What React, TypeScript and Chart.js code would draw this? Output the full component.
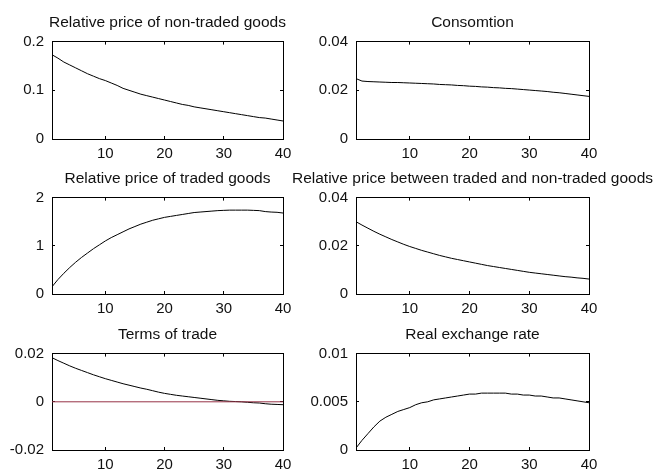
import React, { useEffect, useRef } from "react";
import { Chart, registerables } from "chart.js";

Chart.register(...registerables);

const periods = [1, 2, 3, 4, 5, 6, 7, 8, 9, 10, 11, 12, 13, 14, 15, 16, 17, 18, 19, 20, 21, 22, 23, 24, 25, 26, 27, 28, 29, 30, 31, 32, 33, 34, 35, 36, 37, 38, 39, 40];
const xTicks = [10, 20, 30, 40];
const xTickLabels = ["10", "20", "30", "40"];

const titles = [
  "Relative price of non-traded goods",
  "Consomtion",
  "Relative price of traded goods",
  "Relative price between traded and non-traded goods",
  "Terms of trade",
  "Real exchange rate",
];

const nonTradedPrice = [0.173, 0.166, 0.158, 0.152, 0.146, 0.140, 0.134, 0.129, 0.124, 0.120, 0.115, 0.110, 0.104, 0.100, 0.096, 0.092, 0.089, 0.086, 0.083, 0.080, 0.077, 0.074, 0.071, 0.069, 0.066, 0.064, 0.062, 0.060, 0.058, 0.056, 0.054, 0.052, 0.050, 0.048, 0.046, 0.044, 0.043, 0.041, 0.039, 0.037];
const consumption = [0.0248, 0.0238, 0.0236, 0.0235, 0.0234, 0.0233, 0.0232, 0.0232, 0.0231, 0.0230, 0.0229, 0.0228, 0.0227, 0.0226, 0.0224, 0.0223, 0.0222, 0.0220, 0.0219, 0.0217, 0.0216, 0.0214, 0.0213, 0.0211, 0.0210, 0.0208, 0.0207, 0.0205, 0.0203, 0.0201, 0.0199, 0.0197, 0.0195, 0.0192, 0.0190, 0.0187, 0.0184, 0.0181, 0.0178, 0.0175];
const tradedPrice = [0.15, 0.30, 0.43, 0.55, 0.66, 0.76, 0.85, 0.94, 1.02, 1.10, 1.17, 1.23, 1.29, 1.35, 1.40, 1.45, 1.49, 1.53, 1.56, 1.59, 1.61, 1.63, 1.65, 1.67, 1.69, 1.70, 1.71, 1.72, 1.73, 1.735, 1.74, 1.74, 1.74, 1.74, 1.735, 1.73, 1.71, 1.70, 1.695, 1.68];
const relativeTradedNonTraded = [0.0300, 0.0286, 0.0273, 0.0260, 0.0248, 0.0237, 0.0226, 0.0216, 0.0206, 0.0197, 0.0189, 0.0181, 0.0174, 0.0167, 0.0160, 0.0154, 0.0148, 0.0143, 0.0138, 0.0133, 0.0128, 0.0123, 0.0118, 0.0114, 0.0110, 0.0106, 0.0102, 0.0098, 0.0094, 0.0090, 0.0087, 0.0084, 0.0081, 0.0078, 0.0075, 0.0072, 0.0070, 0.0067, 0.0065, 0.0062];
const termsOfTrade = [0.0183, 0.0171, 0.0160, 0.0149, 0.0139, 0.0130, 0.0121, 0.0112, 0.0104, 0.0096, 0.0089, 0.0082, 0.0075, 0.0069, 0.0063, 0.0057, 0.0052, 0.0046, 0.0040, 0.0035, 0.0031, 0.0027, 0.0024, 0.0021, 0.0018, 0.0015, 0.0012, 0.0009, 0.0006, 0.0004, 0.0002, 0.0001, 0.0000, -0.0002, -0.0004, -0.0005, -0.0008, -0.0010, -0.0011, -0.0012];
const zeroLine = [0, 0];
const zeroLineX = [1, 40];
const realExchangeRate = [0.0002, 0.0010, 0.0017, 0.0024, 0.0030, 0.0034, 0.0037, 0.0040, 0.0042, 0.0044, 0.0047, 0.0049, 0.0050, 0.0052, 0.0053, 0.0054, 0.0055, 0.0056, 0.0057, 0.0058, 0.0058, 0.0059, 0.0059, 0.0059, 0.0059, 0.0059, 0.0058, 0.0058, 0.0057, 0.0057, 0.0056, 0.0056, 0.0055, 0.0054, 0.0054, 0.0053, 0.0052, 0.0051, 0.0050, 0.0049];

const yTicks1 = [0, 0.1, 0.2];
const yLabels1 = ["0", "0.1", "0.2"];
const yTicks2 = [0, 0.02, 0.04];
const yLabels2 = ["0", "0.02", "0.04"];
const yTicks3 = [0, 1, 2];
const yLabels3 = ["0", "1", "2"];
const yTicks4 = [0, 0.02, 0.04];
const yLabels4 = ["0", "0.02", "0.04"];
const yTicks5 = [-0.02, 0, 0.02];
const yLabels5 = ["-0.02", "0", "0.02"];
const yTicks6 = [0, 0.005, 0.01];
const yLabels6 = ["0", "0.005", "0.01"];

const FONT = "'Liberation Sans', Arial, Helvetica, sans-serif";

type Panel = {
  title: string;
  series: number[];
  yTicks: number[];
  yLabels: string[];
  zero?: boolean;
  box: { left: number; top: number; width: number; height: number };
  side: number;
};

const panels: Panel[] = [
  { title: titles[0], series: nonTradedPrice, yTicks: yTicks1, yLabels: yLabels1, box: { left: 52, top: 41, width: 231, height: 98 }, side: 50 },
  { title: titles[1], series: consumption, yTicks: yTicks2, yLabels: yLabels2, box: { left: 356, top: 41, width: 233, height: 98 }, side: 190 },
  { title: titles[2], series: tradedPrice, yTicks: yTicks3, yLabels: yLabels3, box: { left: 52, top: 197, width: 231, height: 97 }, side: 50 },
  { title: titles[3], series: relativeTradedNonTraded, yTicks: yTicks4, yLabels: yLabels4, box: { left: 356, top: 197, width: 233, height: 97 }, side: 190 },
  { title: titles[4], series: termsOfTrade, yTicks: yTicks5, yLabels: yLabels5, zero: true, box: { left: 52, top: 353, width: 231, height: 97 }, side: 50 },
  { title: titles[5], series: realExchangeRate, yTicks: yTicks6, yLabels: yLabels6, box: { left: 356, top: 353, width: 233, height: 97 }, side: 190 },
];

const TOP = 30;
const BOTTOM = 28;

function PanelChart({ p }: { p: Panel }) {
  const ref = useRef<HTMLCanvasElement | null>(null);
  const W = p.box.width + 2 * p.side;
  const H = p.box.height + TOP + BOTTOM;
  useEffect(() => {
    if (!ref.current) return;
    const ymin = p.yTicks[0];
    const ymax = p.yTicks[p.yTicks.length - 1];
    const setX = (scale: any) => {
      scale.ticks = xTicks.map((v) => ({ value: v }));
    };
    const setY = (scale: any) => {
      scale.ticks = p.yTicks.map((v) => ({ value: v }));
    };
    const grid = {
      display: true,
      drawOnChartArea: false,
      drawTicks: true,
      tickLength: -3,
      color: "#000",
      lineWidth: 1,
    };
    const border = { display: true, color: "#000", width: 1 };
    const datasets: any[] = [];
    if (p.zero) {
      datasets.push({
        data: zeroLineX.map((x, i) => ({ x, y: zeroLine[i] })),
        borderColor: "rgb(150,50,70)",
        borderWidth: 1,
        pointRadius: 0,
        xAxisID: "x",
        yAxisID: "y",
      });
    }
    datasets.push({
      data: periods.map((x, i) => ({ x, y: p.series[i] })),
      borderColor: "#000",
      borderWidth: 1,
      pointRadius: 0,
      tension: 0,
      xAxisID: "x",
      yAxisID: "y",
    });
    const chart = new Chart(ref.current, {
      type: "line",
      data: { datasets },
      options: {
        animation: false,
        responsive: false,
        maintainAspectRatio: false,
        devicePixelRatio: 1,
        layout: { padding: 0 },
        plugins: {
          legend: { display: false },
          tooltip: { enabled: false },
          title: {
            display: true,
            text: p.title,
            color: "#111",
            font: { family: FONT, size: 15.5, weight: "normal" },
            padding: { top: 2, bottom: 10 },
          },
        },
        scales: {
          x: {
            type: "linear",
            position: "bottom",
            min: 1,
            max: 40,
            afterBuildTicks: setX,
            afterFit: (s: any) => { s.height = BOTTOM; },
            grid,
            border,
            ticks: {
              color: "#111",
              font: { family: FONT, size: 15 },
              padding: 9,
              maxRotation: 0,
              autoSkip: false,
              callback: (_v: any, i: number) => xTickLabels[i],
            },
          },
          x2: {
            type: "linear",
            position: "top",
            min: 1,
            max: 40,
            afterBuildTicks: setX,
            afterFit: (s: any) => { s.height = 0; },
            grid,
            border,
            ticks: { display: false },
          },
          y: {
            type: "linear",
            position: "left",
            min: ymin,
            max: ymax,
            afterBuildTicks: setY,
            afterFit: (s: any) => { s.width = p.side; },
            grid,
            border,
            ticks: {
              color: "#111",
              font: { family: FONT, size: 15 },
              padding: 11,
              autoSkip: false,
              callback: (_v: any, i: number) => p.yLabels[i],
            },
          },
          y2: {
            type: "linear",
            position: "right",
            min: ymin,
            max: ymax,
            afterBuildTicks: setY,
            afterFit: (s: any) => { s.width = p.side; },
            grid,
            border,
            ticks: { display: false },
          },
        },
      } as any,
    });
    return () => chart.destroy();
  }, []);
  return (
    <canvas
      ref={ref}
      width={W}
      height={H}
      style={{
        position: "absolute",
        left: p.box.left - p.side,
        top: p.box.top - TOP,
        width: W,
        height: H,
      }}
    />
  );
}

export default function App() {
  return (
    <div
      style={{
        position: "absolute",
        left: 0,
        top: 0,
        width: 656,
        height: 474,
        overflow: "hidden",
        background: "#fff",
      }}
    >
      {panels.map((p, i) => (
        <PanelChart key={i} p={p} />
      ))}
    </div>
  );
}
